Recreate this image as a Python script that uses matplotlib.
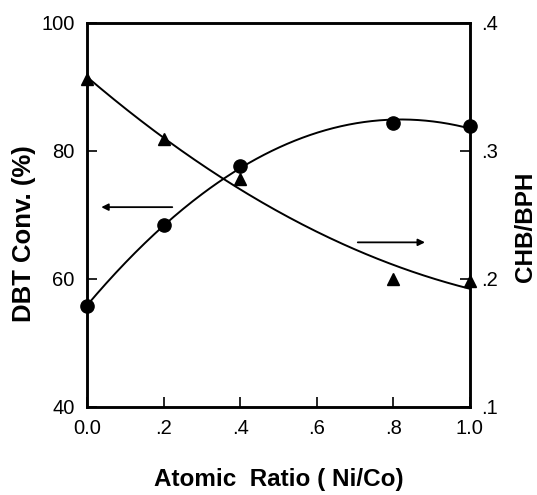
import numpy as np
import matplotlib
matplotlib.use("Agg")
import matplotlib.pyplot as plt

plt.rcParams['font.family'] = ['Liberation Sans', 'DejaVu Sans']

ratio = [0.0, 0.2, 0.4, 0.8, 1.0]
dbt_conv = [55.7, 68.4, 77.6, 84.3, 83.8]
chb_bph = [0.356, 0.309, 0.278, 0.200, 0.198]

x_ticks = [0.0, 0.2, 0.4, 0.6, 0.8, 1.0]
x_ticklabels = ["0.0", ".2", ".4", ".6", ".8", "1.0"]
y_ticks = [40, 60, 80, 100]
y2_ticks = [0.1, 0.2, 0.3, 0.4]
y2_ticklabels = [".1", ".2", ".3", ".4"]

fig = plt.figure(figsize=(5.37, 4.95), dpi=100)
ax = fig.add_axes([0.162, 0.178, 0.713, 0.776])
ax2 = ax.twinx()

xs = np.linspace(0, 1, 200)
c1 = np.polyfit(ratio, dbt_conv, 2)
c2 = np.polyfit(ratio, chb_bph, 2)

ax.plot(xs, np.polyval(c1, xs), color='black', lw=1.4, clip_on=False)
ax.plot(ratio, dbt_conv, 'o', color='black', ms=9.5, clip_on=False, zorder=5)
ax2.plot(xs, np.polyval(c2, xs), color='black', lw=1.4, clip_on=False)
ax2.plot(ratio, chb_bph, '^', color='black', ms=9, clip_on=False, zorder=5)

ax.set_xlim(0, 1)
ax.set_ylim(40, 100)
ax2.set_ylim(0.1, 0.4)

ax.set_xticks(x_ticks)
ax.set_xticklabels(x_ticklabels)
ax.set_yticks(y_ticks)
ax2.set_yticks(y2_ticks)
ax2.set_yticklabels(y2_ticklabels)

for a in (ax, ax2):
    for s in a.spines.values():
        s.set_linewidth(1.8)
ax.tick_params(axis='x', direction='in', length=7, width=1.2, labelsize=14.5, pad=9)
ax.tick_params(axis='y', direction='in', length=7, width=1.2, labelsize=14.5, pad=9)
ax2.tick_params(axis='y', direction='in', length=7, width=1.2, labelsize=14.5, pad=8)

# arrows
ax.annotate('', xy=(0.03, 71.2), xytext=(0.23, 71.2),
            arrowprops=dict(arrowstyle='-|>', color='black', lw=1.3, mutation_scale=10))
ax.annotate('', xy=(0.89, 65.7), xytext=(0.70, 65.7),
            arrowprops=dict(arrowstyle='-|>', color='black', lw=1.3, mutation_scale=10))

ax.set_ylabel('DBT Conv. (%)', fontsize=18.5, fontweight='bold')
ax.yaxis.label.set_va('center')
ax.yaxis.set_label_coords(-0.165, 0.45)
ax2.set_ylabel('CHB/BPH', fontsize=17.5, fontweight='bold')
ax2.yaxis.label.set_va('center')
ax2.yaxis.set_label_coords(1.145, 0.47)
ax.set_xlabel('Atomic  Ratio ( Ni/Co)', fontsize=17.5, fontweight='bold')
ax.xaxis.label.set_va('center')
ax.xaxis.set_label_coords(0.5, -0.19)

fig.savefig('out.png', dpi=100)
